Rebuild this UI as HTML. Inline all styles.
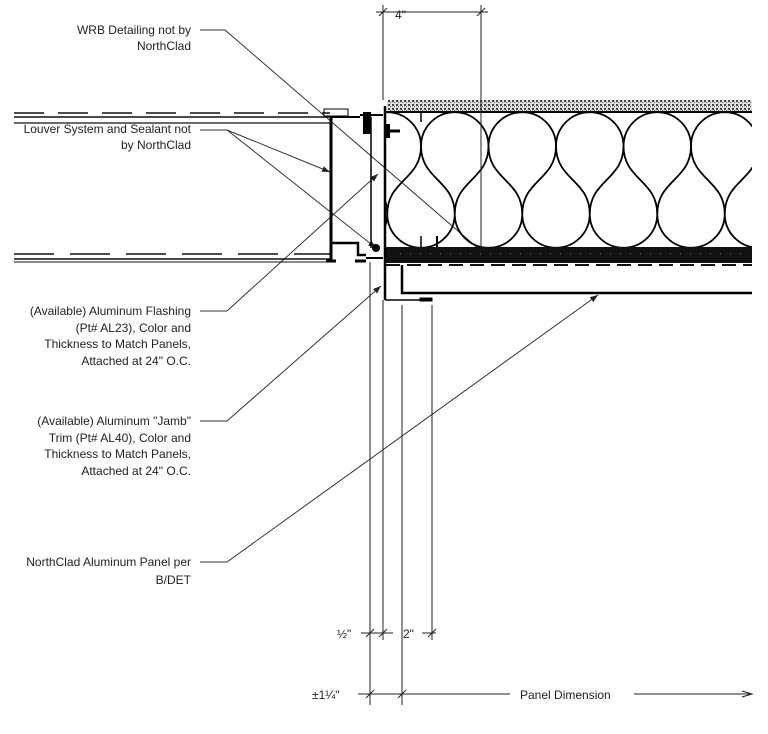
<!DOCTYPE html>
<html><head><meta charset="utf-8"><style>
html,body{margin:0;padding:0;background:#fff;}
svg{display:block;}
text{font-family:"Liberation Sans",sans-serif;font-size:12px;fill:#222;}
</style></head><body>
<svg width="768" height="734" viewBox="0 0 768 734" xmlns="http://www.w3.org/2000/svg">
<defs>
<pattern id="dots" width="4" height="4" patternUnits="userSpaceOnUse"><rect width="4" height="4" fill="#ddd"/><rect x="0" y="0" width="2" height="2" fill="#444"/><rect x="2" y="2" width="1" height="1" fill="#666"/></pattern>
<clipPath id="ins"><rect x="386" y="112" width="366" height="136"/></clipPath>
<marker id="ar" markerWidth="8" markerHeight="6" refX="8" refY="3" orient="auto" markerUnits="userSpaceOnUse"><path d="M0,0 L8,3 L0,6z" fill="#222"/></marker>
</defs>

<g text-anchor="end">
<text x="191" y="34">WRB Detailing not by</text>
<text x="191" y="50">NorthClad</text>
<text x="191" y="133">Louver System and Sealant not</text>
<text x="191" y="149">by NorthClad</text>
<text x="191" y="315">(Available) Aluminum Flashing</text>
<text x="191" y="332">(Pt# AL23), Color and</text>
<text x="191" y="348">Thickness to Match Panels,</text>
<text x="191" y="365">Attached at 24" O.C.</text>
<text x="191" y="425">(Available) Aluminum "Jamb"</text>
<text x="191" y="442">Trim (Pt# AL40), Color and</text>
<text x="191" y="458">Thickness to Match Panels,</text>
<text x="191" y="475">Attached at 24" O.C.</text>
<text x="191" y="566">NorthClad Aluminum Panel per</text>
<text x="191" y="584">B/DET</text>
</g>

<g stroke="#333" stroke-width="1" fill="none">
<polyline points="200,30 225,30 480,250"/>
<polyline points="200,130 227,130 330,172" marker-end="url(#ar)"/>
<line x1="227" y1="130" x2="376" y2="248" marker-end="url(#ar)"/>
<polyline points="200,311 227,311 378,174" marker-end="url(#ar)"/>
<polyline points="200,421 227,421 381,286" marker-end="url(#ar)"/>
<polyline points="200,562 227,562 598,295" marker-end="url(#ar)"/>
</g>

<g stroke="#111" fill="none">
<line x1="14" y1="113" x2="330" y2="113" stroke-width="1.5" stroke-dasharray="30,14"/>
<line x1="14" y1="117" x2="330" y2="117" stroke-width="1.5"/>
<line x1="14" y1="123" x2="330" y2="123" stroke-width="1.2"/>
<line x1="14" y1="254" x2="330" y2="254" stroke-width="1.5" stroke-dasharray="40,16"/>
<line x1="14" y1="259" x2="330" y2="259" stroke-width="1.5"/>
<line x1="14" y1="262" x2="330" y2="262" stroke-width="1"/>
</g>
<g stroke="#000" fill="none">
<rect x="324" y="109" width="24" height="7" stroke-width="1"/>
<polyline points="330,117 360,117" stroke-width="2"/>
<line x1="331" y1="117" x2="331" y2="261" stroke-width="3"/>
<polyline points="331,243 358,243 358,255 366,255" stroke-width="2.5"/>
<line x1="326" y1="261" x2="336" y2="261" stroke-width="3"/>
<line x1="355" y1="261" x2="366" y2="261" stroke-width="3"/>
<line x1="371" y1="117" x2="371" y2="248" stroke-width="1.5"/>
<line x1="360" y1="115" x2="383" y2="115" stroke-width="2"/>
<rect x="363" y="112" width="8" height="22" fill="#000" stroke="none"/>
<rect x="384" y="124" width="6" height="14" fill="#000" stroke="none"/>
<line x1="390" y1="131" x2="400" y2="131" stroke-width="3"/>
<circle cx="376" cy="248" r="4" fill="#000" stroke="none"/>
<line x1="366" y1="258" x2="383" y2="258" stroke-width="2"/>
</g>

<rect x="387" y="100" width="365" height="12" fill="url(#dots)"/>
<line x1="386" y1="112" x2="752" y2="112" stroke="#000" stroke-width="2"/>

<!-- insulation -->
<g clip-path="url(#ins)" stroke="#000" stroke-width="1.8" fill="none">
<path d="
M353.5,146 C353.5,180 387.25,180 387.25,214 M353.5,146 C353.5,180 319.75,180 319.75,214
M421,146 C421,180 454.75,180 454.75,214 M421,146 C421,180 387.25,180 387.25,214
M488.5,146 C488.5,180 522.25,180 522.25,214 M488.5,146 C488.5,180 454.75,180 454.75,214
M556,146 C556,180 589.75,180 589.75,214 M556,146 C556,180 522.25,180 522.25,214
M623.5,146 C623.5,180 657.25,180 657.25,214 M623.5,146 C623.5,180 589.75,180 589.75,214
M691,146 C691,180 724.75,180 724.75,214 M691,146 C691,180 657.25,180 657.25,214
M758.5,146 C758.5,180 792.25,180 792.25,214 M758.5,146 C758.5,180 724.75,180 724.75,214
M353.5,146 A33.75,33.75 0 0 1 421,146
M421,146 A33.75,33.75 0 0 1 488.5,146
M488.5,146 A33.75,33.75 0 0 1 556,146
M556,146 A33.75,33.75 0 0 1 623.5,146
M623.5,146 A33.75,33.75 0 0 1 691,146
M691,146 A33.75,33.75 0 0 1 758.5,146
M758.5,146 A33.75,33.75 0 0 1 826,146
M387.25,214 A33.75,33.75 0 0 1 319.75,214
M454.75,214 A33.75,33.75 0 0 1 387.25,214
M522.25,214 A33.75,33.75 0 0 1 454.75,214
M589.75,214 A33.75,33.75 0 0 1 522.25,214
M657.25,214 A33.75,33.75 0 0 1 589.75,214
M724.75,214 A33.75,33.75 0 0 1 657.25,214
M792.25,214 A33.75,33.75 0 0 1 724.75,214
"/>
</g>
<line x1="421" y1="112" x2="421" y2="122" stroke="#000" stroke-width="1.5"/>
<line x1="421" y1="236" x2="421" y2="247" stroke="#000" stroke-width="1.5"/>
<line x1="437" y1="236" x2="437" y2="247" stroke="#000" stroke-width="2"/>

<rect x="386" y="247" width="366" height="16" fill="#111"/>
<line x1="400" y1="254" x2="750" y2="254" stroke="#777" stroke-width="1" stroke-dasharray="1,9"/>
<line x1="386" y1="265" x2="752" y2="265" stroke="#111" stroke-width="2" stroke-dasharray="14,7"/>

<g stroke="#000" fill="none">
<line x1="385" y1="106" x2="385" y2="300" stroke-width="2.5"/>
<polyline points="385,300 430,300" stroke-width="1.5"/>
<rect x="420" y="298" width="12" height="3" fill="#000"/>
<polyline points="402,265 402,293 752,293" stroke-width="2.5"/>
</g>

<g stroke="#222" stroke-width="1" fill="none">
<line x1="383" y1="5" x2="383" y2="100"/>
<line x1="481" y1="5" x2="481" y2="252"/>
<line x1="376" y1="12" x2="488" y2="12"/>
<line x1="379" y1="16" x2="387" y2="8"/>
<line x1="477" y1="16" x2="485" y2="8"/>
<line x1="370" y1="262" x2="370" y2="705"/>
<line x1="383" y1="300" x2="383" y2="640"/>
<line x1="402" y1="305" x2="402" y2="705"/>
<line x1="432" y1="305" x2="432" y2="640"/>
<line x1="361" y1="633" x2="393" y2="633"/>
<line x1="422" y1="633" x2="436" y2="633"/>
<line x1="366" y1="637" x2="374" y2="629"/>
<line x1="379" y1="637" x2="387" y2="629"/>
<line x1="428" y1="637" x2="436" y2="629"/>
<line x1="358" y1="694" x2="510" y2="694"/>
<line x1="634" y1="694" x2="750" y2="694"/>
<line x1="366" y1="698" x2="374" y2="690"/>
<line x1="398" y1="698" x2="406" y2="690"/>
</g>
<path d="M742,691 L752,694 L742,697" stroke="#222" fill="none"/>
<text x="395" y="19">4"</text>
<text x="337" y="638">½"</text>
<text x="403" y="638">2"</text>
<text x="312" y="699">±1¼"</text>
<text x="520" y="699">Panel Dimension</text>
</svg>
</body></html>
